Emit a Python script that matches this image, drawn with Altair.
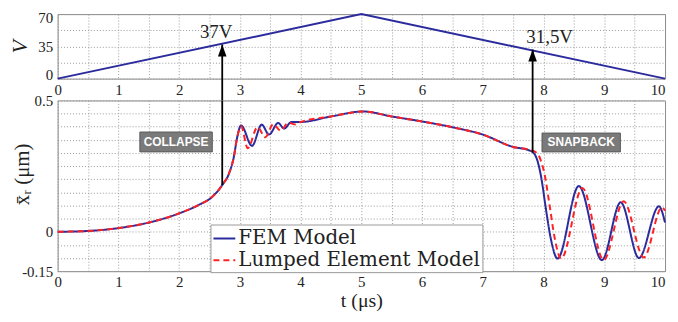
import altair as alt
import pandas as pd

# ---------------- data ----------------
V_T = [0, 5, 10]
V_VAL = [0, 70, 0]

FEM_T = [0, 0.5, 1.0, 1.5, 2.0, 2.33, 2.55, 2.71, 2.82, 2.9, 2.955, 3.02,
         3.2, 3.36, 3.48, 3.63, 3.73, 3.85, 4.0, 4.5, 5.03, 5.5, 6.0, 6.5,
         7.0, 7.5, 7.75, 7.83, 7.9, 7.96, 8.04, 8.12, 8.23, 8.58, 8.96,
         9.27, 9.57, 9.9, 10.0]
FEM_X = [0, 0.003, 0.014, 0.035, 0.07, 0.103, 0.134, 0.178, 0.221, 0.284, 0.358, 0.405,
         0.327, 0.408, 0.37, 0.414, 0.393, 0.418, 0.418, 0.439, 0.458, 0.439, 0.42, 0.398,
         0.37, 0.323, 0.311, 0.302, 0.27, 0.209, 0.085, -0.027, -0.102, 0.174, -0.108,
         0.112, -0.1, 0.097, 0.035]

LEM_T = [0, 0.5, 1.0, 1.5, 2.0, 2.33, 2.55, 2.71, 2.82, 2.9, 2.955, 3.02,
         3.13, 3.29, 3.42, 3.55, 3.67, 3.8, 3.92, 4.0, 4.5, 5.03, 5.5, 6.0, 6.5,
         7.0, 7.5, 7.75, 7.88, 7.95, 8.02, 8.1, 8.18, 8.29, 8.64, 8.99,
         9.32, 9.65, 9.95, 10.0]
LEM_X = [0, 0.003, 0.014, 0.035, 0.07, 0.103, 0.134, 0.178, 0.221, 0.284, 0.358, 0.402,
         0.318, 0.398, 0.36, 0.41, 0.385, 0.415, 0.408, 0.418, 0.439, 0.458, 0.439, 0.42, 0.398,
         0.37, 0.323, 0.313, 0.302, 0.275, 0.215, 0.1, -0.02, -0.102, 0.167, -0.108,
         0.116, -0.098, 0.093, 0.08]

MODELS = ["FEM Model", "Lumped Element Model"]
COLORS = ["#2b2b9e", "#ff2222"]
DASHES = [[1, 0], [6, 4]]

# ticks / grid
T_GRID = [i * 0.5 for i in range(21)]
T_LABELS = [0, 1, 2, 3, 4, 5, 6, 7, 8, 9, 10]
V_GRID = [0, 17.5, 35, 52.5, 70]
V_LABELS = [0, 35, 70]
X_GRID = [-0.15, -0.1, -0.05, 0, 0.05, 0.1, 0.15, 0.2, 0.25, 0.3, 0.35, 0.4, 0.45, 0.5]
X_LABELS = [0.5, 0, -0.15]

# annotations
ARROW_T = [2.71, 7.82]
ARROW_V = [37, 31.5]
ARROW_X = [0.178, 0.302]
VTXT_T = [2.61, 8.1]
VTXT_V = [50.5, 45.0]
VTXT = ["37V", "31,5V"]
BOX_T = [1.95, 8.62]
BOX_X = [0.342, 0.34]
BOX_TXT = ["COLLAPSE", "SNAPBACK"]

W = 612
TOP_H = 65
BOT_H = 172
SPACING = 22
SERIF = "Liberation Serif"

# ---------------- frames ----------------
v_df = pd.DataFrame({"t": V_T, "V": V_VAL})
curves = pd.concat([
    pd.DataFrame({"t": FEM_T, "x": FEM_X, "model": MODELS[0]}),
    pd.DataFrame({"t": LEM_T, "x": LEM_X, "model": MODELS[1]}),
])
arrows = pd.DataFrame({"t": ARROW_T, "V": ARROW_V, "x": ARROW_X})
vtxt = pd.DataFrame({"t": VTXT_T, "V": VTXT_V, "txt": VTXT})
boxes = pd.DataFrame({"t": BOX_T, "x": BOX_X, "txt": BOX_TXT})


def label_expr(vals):
    return "indexof([%s], datum.value) >= 0 ? toString(datum.value) : ''" % ",".join(str(v) for v in vals)


common_axis = dict(grid=True, ticks=False, domain=False, labelFont=SERIF,
                   labelColor="#222", gridColor="#9a9a9a", gridDash=[1, 2], gridWidth=1,
                   gridOpacity=1, labelOverlap=False, labelBound=False,
                   tickCount=100)

# last t label kept inside the plot's right edge
t_label_align = {"condition": {"test": "datum.value == %s" % T_LABELS[-1], "value": "right"},
                 "value": "center"}

t_scale = alt.Scale(domain=[0, 10], nice=False, zero=False)

# ---------------- top panel ----------------
xt = alt.X("t:Q", scale=t_scale,
           axis=alt.Axis(values=T_GRID, labelExpr=label_expr(T_LABELS), title=None,
                         labelPadding=4, labelFontSize=15, labelAlign=t_label_align,
                         labelFlush=False, **common_axis))
yt = alt.Y("V:Q", scale=alt.Scale(domain=[0, 70], nice=False),
           axis=alt.Axis(values=V_GRID, labelExpr=label_expr(V_LABELS), title="V", titleFont=SERIF,
                         titleFontStyle="italic", titleFontWeight="normal", titleFontSize=22,
                         titleColor="#222", titleX=-38, titleBaseline="middle",
                         labelPadding=5, labelFontSize=15, labelFlush=True, labelFlushOffset=4,
                         **common_axis))

v_line = alt.Chart(v_df).mark_line(color=COLORS[0], strokeWidth=2).encode(x=xt, y=yt)
top_rule = alt.Chart(arrows).mark_rule(color="black", strokeWidth=1.8).encode(
    x="t:Q", y="V:Q", y2=alt.value(TOP_H + SPACING))
top_head = alt.Chart(arrows).mark_point(
    shape="M0,0L0.36,1L-0.36,1Z", size=576, filled=True, color="black", opacity=1,
    strokeWidth=0).encode(x="t:Q", y="V:Q")
top_text = alt.Chart(vtxt).mark_text(font=SERIF, fontSize=19, color="#222").encode(
    x="t:Q", y="V:Q", text="txt:N")

top = alt.layer(v_line, top_rule, top_head, top_text).properties(width=W, height=TOP_H)

# ---------------- bottom panel ----------------
xb = alt.X("t:Q", scale=t_scale,
           axis=alt.Axis(values=T_GRID, labelExpr=label_expr(T_LABELS), title="t (μs)",
                         titleFont=SERIF, titleFontSize=20, titleFontWeight="normal",
                         titleColor="#222", labelPadding=3, labelFontSize=15, titlePadding=2,
                         labelAlign=t_label_align, labelFlush=False, **common_axis))
yb = alt.Y("x:Q", scale=alt.Scale(domain=[-0.15, 0.5], nice=False, zero=False),
           axis=alt.Axis(values=X_GRID, labelExpr=label_expr(X_LABELS), title="x̄ᵣ (μm)",
                         titleFont=SERIF, titleFontSize=21, titleFontWeight="normal",
                         titleColor="#222", titleX=-35, titleY=74, titleBaseline="middle",
                         labelPadding=5, labelFontSize=15, labelFlush=False, **common_axis))

legend = alt.Legend(title=None, orient="none", legendX=154, legendY=TOP_H + SPACING + 125,
                    fillColor="white", strokeColor="#999", padding=2,
                    labelFont="DejaVu Serif", labelFontSize=20, labelColor="#222", labelLimit=400,
                    symbolType="stroke", symbolSize=484, symbolStrokeWidth=2,
                    labelOffset=2, rowPadding=0)

lines = alt.Chart(curves).mark_line(strokeWidth=2, interpolate="monotone").encode(
    x=xb, y=yb,
    color=alt.Color("model:N", scale=alt.Scale(domain=MODELS, range=COLORS), legend=legend),
    strokeDash=alt.StrokeDash("model:N", scale=alt.Scale(domain=MODELS, range=DASHES), legend=legend),
    order=alt.Order("t:Q"),
)
bot_rule = alt.Chart(arrows).mark_rule(color="black", strokeWidth=1.8).encode(
    x="t:Q", y="x:Q", y2=alt.value(0))
box_c = alt.Chart(boxes.iloc[[0]]).mark_point(
    shape="M-1,-0.274L1,-0.274L1,0.274L-1,0.274Z", size=5329, filled=True,
    fill="#7a7a7a", stroke="#5c5c5c", strokeWidth=1, opacity=1).encode(x="t:Q", y="x:Q")
box_s = alt.Chart(boxes.iloc[[1]]).mark_point(
    shape="M-1,-0.24L1,-0.24L1,0.24L-1,0.24Z", size=6241, filled=True,
    fill="#7a7a7a", stroke="#5c5c5c", strokeWidth=1, opacity=1).encode(x="t:Q", y="x:Q")
box_txt = alt.Chart(boxes).mark_text(font="Liberation Sans", fontWeight="bold", fontSize=12,
                                     color="white").encode(x="t:Q", y="x:Q", text="txt:N")

bottom = alt.layer(lines, bot_rule, box_c, box_s, box_txt).properties(width=W, height=BOT_H)

chart = alt.vconcat(top, bottom, spacing=SPACING, bounds="flush").resolve_scale(
    x="independent", y="independent"
).configure_view(stroke="#888", strokeWidth=1).properties(
    padding={"left": 0, "top": 0, "right": 0, "bottom": 0}
)

chart.save("out.html", embed_options={"renderer": "svg", "actions": False})
